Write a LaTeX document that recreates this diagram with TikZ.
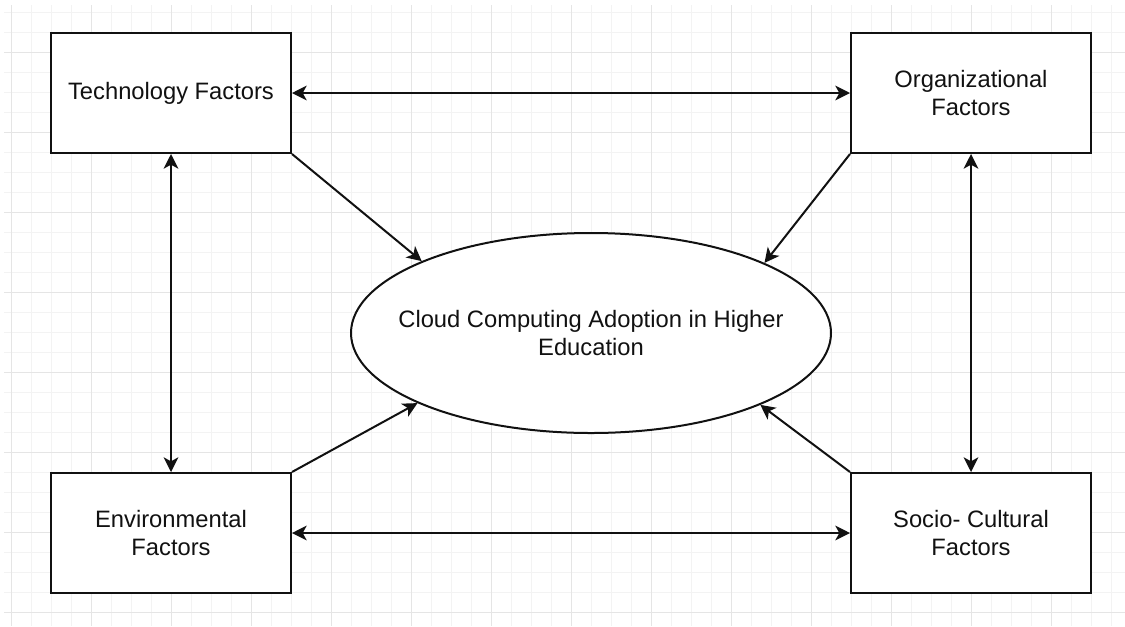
\documentclass[tikz,border=0pt]{standalone}
\usepackage{fontspec}
\setmainfont{Liberation Sans}
\usetikzlibrary{arrows.meta,shapes.geometric}
\definecolor{gridminor}{HTML}{F3F3F3}
\definecolor{gridmajor}{HTML}{E5E5E5}
\definecolor{ink}{HTML}{111111}
\begin{document}
\begin{tikzpicture}[x=0.75pt,y=-0.75pt,
  factor/.style={draw=ink, line width=1.5pt, fill=white, minimum width=180pt, minimum height=90pt,
    inner sep=0pt, align=center, text=ink, font=\fontsize{17.8pt}{21pt}\selectfont},
  centre/.style={draw=ink, line width=1.5pt, fill=white, ellipse, minimum width=360pt, minimum height=150pt, inner sep=0pt},
  link/.style={draw=ink, line width=1.5pt, -{Stealth[length=11pt,width=11pt,inset=3pt]}},
  bilink/.style={draw=ink, line width=1.5pt, {Stealth[length=11pt,width=11pt,inset=3pt]}-{Stealth[length=11pt,width=11pt,inset=3pt]}}
]
\useasboundingbox (0,0) rectangle (1125,626);
\fill[white] (0,0) rectangle (1125,626);
% grid
\foreach \k in {0,...,55} {\draw[gridminor, line width=0.75pt] (11.5+20*\k,5) -- (11.5+20*\k,626);}
\foreach \k in {0,...,30} {\draw[gridminor, line width=0.75pt] (4,12+20*\k) -- (1125,12+20*\k);}
\foreach \k in {0,...,13} {\draw[gridmajor, line width=0.75pt] (11.5+80*\k,5) -- (11.5+80*\k,626);}
\foreach \k in {0,...,7} {\draw[gridmajor, line width=0.75pt] (4,52+80*\k) -- (1125,52+80*\k);}

\node[factor] (tech) at (171,93) {Technology Factors};
\node[factor] (org) at (971,93) {Organizational\\Factors};
\node[factor] (env) at (171,533) {Environmental\\Factors};
\node[factor] (soc) at (971,533) {Socio- Cultural\\Factors};
\node[centre, label={[align=center, text=ink, font=\fontsize{17.8pt}{21pt}\selectfont]center:Cloud Computing Adoption in Higher\\Education}] (cca) at (591,333) {};

\draw[bilink] (tech.east) -- (org.west);
\draw[bilink] (env.east) -- (soc.west);
\draw[bilink] (tech.south) -- (env.north);
\draw[bilink] (org.south) -- (soc.north);
\draw[link] (tech.south east) -- (cca.157.7);
\draw[link] (org.south west) -- (cca.22.3);
\draw[link] (env.north east) -- (cca.202.3);
\draw[link] (soc.north west) -- (cca.337.7);
\end{tikzpicture}
\end{document}
